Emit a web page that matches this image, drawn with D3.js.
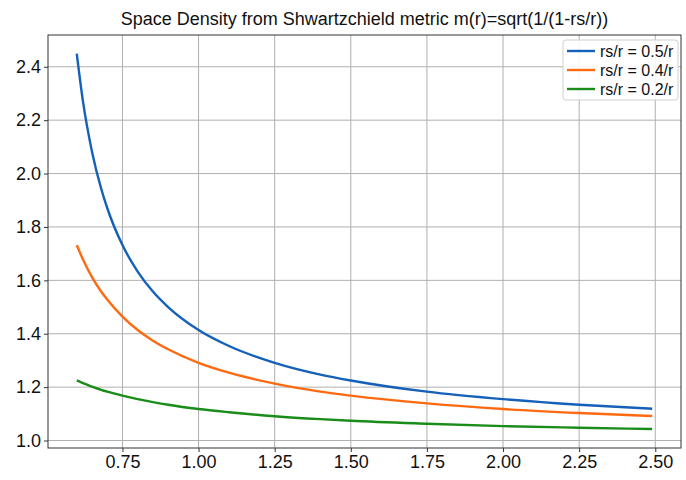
<!DOCTYPE html>
<html>
<head>
<meta charset="utf-8">
<script src="https://cdn.jsdelivr.net/npm/d3@7"></script>
<style>
  body { margin: 0; background: #fff; }
  text { font-family: "Liberation Sans", Arial, Helvetica, sans-serif; fill: #111; }
</style>
</head>
<body>
<div id="chart"></div>
<script>
// radius values (r) where curves were read
var rValues = [0.60, 0.62, 0.65, 0.68, 0.70, 0.75, 0.80, 0.85, 0.90, 1.00, 1.10, 1.25, 1.40, 1.50, 1.75, 2.00, 2.25, 2.49];

// m(r) readings for each rs
var rs05 = [2.449, 2.273, 2.082, 1.944, 1.871, 1.732, 1.633, 1.558, 1.500, 1.414, 1.354, 1.291, 1.247, 1.225, 1.183, 1.155, 1.134, 1.119];
var rs04 = [1.732, 1.679, 1.612, 1.558, 1.528, 1.464, 1.414, 1.374, 1.342, 1.291, 1.254, 1.213, 1.183, 1.168, 1.139, 1.118, 1.103, 1.092];
var rs02 = [1.225, 1.215, 1.202, 1.190, 1.183, 1.168, 1.155, 1.144, 1.134, 1.118, 1.106, 1.091, 1.080, 1.074, 1.063, 1.054, 1.048, 1.043];

var seriesNames = ["rs/r = 0.5/r", "rs/r = 0.4/r", "rs/r = 0.2/r"];
var seriesColors = ["#1560b8", "#ff6a10", "#1a8c1a"];

var xTicks = [0.75, 1.00, 1.25, 1.50, 1.75, 2.00, 2.25, 2.50];
var yTicks = [1.0, 1.2, 1.4, 1.6, 1.8, 2.0, 2.2, 2.4];

var width = 686,
    height = 480,
    margin = {top: 35, right: 5, bottom: 32, left: 48};

var svg = d3.select("#chart").append("svg")
    .attr("width", width)
    .attr("height", height);

var x = d3.scaleLinear()
    .domain([0.5055, 2.5845])
    .range([margin.left, width - margin.right]);

var y = d3.scaleLinear()
    .domain([0.972, 2.519])
    .range([height - margin.bottom, margin.top]);

// grid lines
svg.append("g")
    .selectAll("line")
    .data(xTicks)
    .enter()
    .append("line")
    .attr("x1", function(d){ return x(d); })
    .attr("x2", function(d){ return x(d); })
    .attr("y1", margin.top)
    .attr("y2", height - margin.bottom)
    .style("stroke", "#b0b0b0")
    .style("stroke-width", 1);

svg.append("g")
    .selectAll("line")
    .data(yTicks)
    .enter()
    .append("line")
    .attr("x1", margin.left)
    .attr("x2", width - margin.right)
    .attr("y1", function(d){ return y(d); })
    .attr("y2", function(d){ return y(d); })
    .style("stroke", "#b0b0b0")
    .style("stroke-width", 1);

// axes
var xAxis = svg.append("g")
    .attr("transform", "translate(0," + (height - margin.bottom) + ")")
    .call(d3.axisBottom(x).tickValues(xTicks).tickFormat(d3.format(".2f")).tickSize(4).tickPadding(3));

var yAxis = svg.append("g")
    .attr("transform", "translate(" + margin.left + ",0)")
    .call(d3.axisLeft(y).tickValues(yTicks).tickFormat(d3.format(".1f")).tickSize(4).tickPadding(3));

[xAxis, yAxis].forEach(function(a){
    a.select(".domain").remove();
    a.selectAll("text").style("font-size", "18px").style("font-family", "'Liberation Sans', Arial, sans-serif").attr("fill", "#111");
    a.selectAll("line").style("stroke", "#333");
});

// frame
svg.append("rect")
    .attr("x", margin.left)
    .attr("y", margin.top)
    .attr("width", width - margin.left - margin.right)
    .attr("height", height - margin.top - margin.bottom)
    .style("fill", "none")
    .style("stroke", "#333")
    .style("stroke-width", 1);

// curves
var line = d3.line()
    .curve(d3.curveMonotoneX)
    .x(function(d){ return x(d[0]); })
    .y(function(d){ return y(d[1]); });

[rs05, rs04, rs02].forEach(function(vals, i){
    svg.append("path")
        .datum(rValues.map(function(r, j){ return [r, vals[j]]; }))
        .attr("d", line)
        .style("fill", "none")
        .style("stroke", seriesColors[i])
        .style("stroke-width", 2.4);
});

// title
svg.append("text")
    .attr("x", (margin.left + width - margin.right) / 2)
    .attr("y", 25)
    .attr("text-anchor", "middle")
    .style("font-size", "18px")
    .text("Space Density from Shwartzchield metric m(r)=sqrt(1/(1-rs/r))");

// legend
var legend = svg.append("g");
legend.append("rect")
    .attr("x", 563)
    .attr("y", 40)
    .attr("width", 115)
    .attr("height", 60)
    .attr("rx", 3)
    .style("fill", "#fff")
    .style("fill-opacity", 0.85)
    .style("stroke", "#d0d0d0");

seriesNames.forEach(function(name, i){
    var ly = 51 + i * 19;
    legend.append("line")
        .attr("x1", 567)
        .attr("x2", 595)
        .attr("y1", ly)
        .attr("y2", ly)
        .style("stroke", seriesColors[i])
        .style("stroke-width", 2.4);
    legend.append("text")
        .attr("x", 600)
        .attr("y", ly + 5.5)
        .style("font-size", "16px")
        .text(name);
});
</script>
</body>
</html>
